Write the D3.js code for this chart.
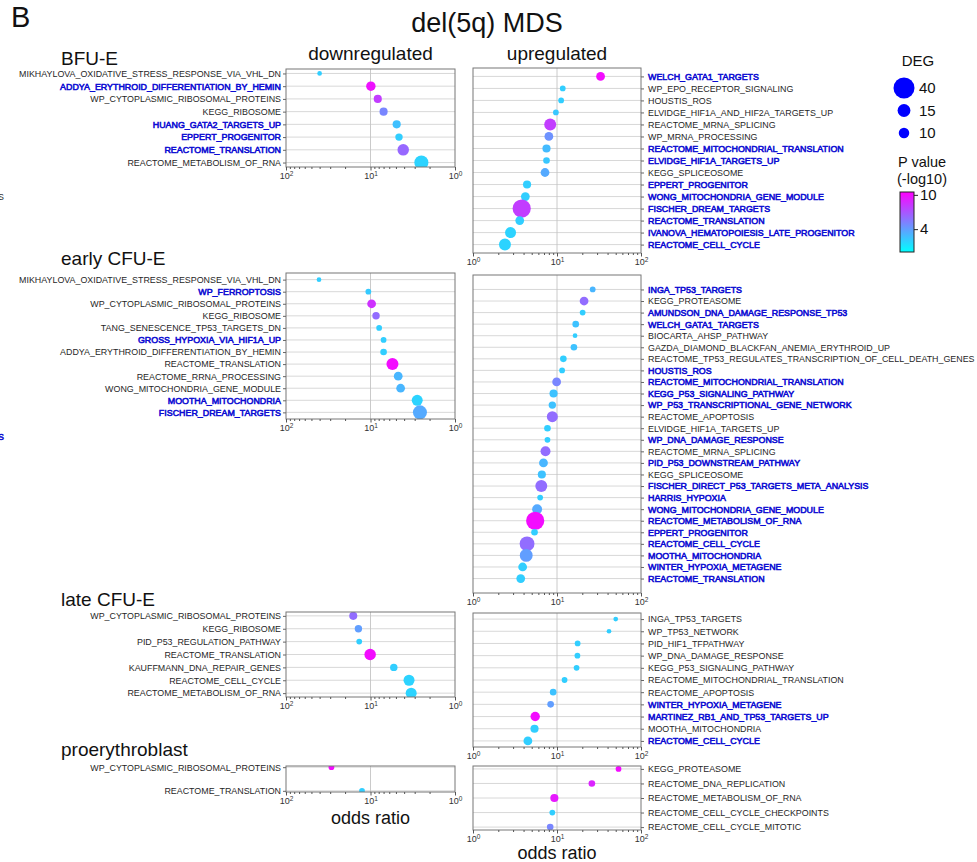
<!DOCTYPE html>
<html>
<head>
<meta charset="utf-8">
<script src="https://cdn.jsdelivr.net/npm/d3@7"></script>
<style>
body{margin:0;background:#fff}
svg{font-family:"Liberation Sans",Arial,sans-serif}
</style>
</head>
<body>
<div id="chart"></div>
<script>
// BFU-E
var bfuDownTerms=['MIKHAYLOVA_OXIDATIVE_STRESS_RESPONSE_VIA_VHL_DN','ADDYA_ERYTHROID_DIFFERENTIATION_BY_HEMIN','WP_CYTOPLASMIC_RIBOSOMAL_PROTEINS','KEGG_RIBOSOME','HUANG_GATA2_TARGETS_UP','EPPERT_PROGENITOR','REACTOME_TRANSLATION','REACTOME_METABOLISM_OF_RNA']
var bfuDownOdds=[40,9.9,8.2,7.0,4.9,4.6,4.1,2.5]
var bfuDownP=[2.0,9.8,8.0,5.0,2.6,2.0,6.2,1.8]
var bfuDownDeg=[2,8,6,6,6,5,12,18]
var bfuDownHl=[0,1,0,0,1,1,1,0]

var bfuUpTerms=['WELCH_GATA1_TARGETS','WP_EPO_RECEPTOR_SIGNALING','HOUSTIS_ROS','ELVIDGE_HIF1A_AND_HIF2A_TARGETS_UP','REACTOME_MRNA_SPLICING','WP_MRNA_PROCESSING','REACTOME_MITOCHONDRIAL_TRANSLATION','ELVIDGE_HIF1A_TARGETS_UP','KEGG_SPLICEOSOME','EPPERT_PROGENITOR','WONG_MITOCHONDRIA_GENE_MODULE','FISCHER_DREAM_TARGETS','REACTOME_TRANSLATION','IVANOVA_HEMATOPOIESIS_LATE_PROGENITOR','REACTOME_CELL_CYCLE']
var bfuUpOdds=[33,11.7,11.2,9.7,8.3,8.0,7.5,7.5,7.2,4.4,4.2,3.8,3.6,2.8,2.4]
var bfuUpP=[10,2,2,2.3,8,4.5,2.8,2.3,3.5,2,2,8,2,1.8,1.8]
var bfuUpDeg=[7,3,3,3,13,7,6,4,7,6,7,30,7,11,13]
var bfuUpHl=[1,0,0,0,0,0,1,1,0,1,1,1,1,1,1]

// early CFU-E
var earlyDownTerms=['MIKHAYLOVA_OXIDATIVE_STRESS_RESPONSE_VIA_VHL_DN','WP_FERROPTOSIS','WP_CYTOPLASMIC_RIBOSOMAL_PROTEINS','KEGG_RIBOSOME','TANG_SENESCENCE_TP53_TARGETS_DN','GROSS_HYPOXIA_VIA_HIF1A_UP','ADDYA_ERYTHROID_DIFFERENTIATION_BY_HEMIN','REACTOME_TRANSLATION','REACTOME_RRNA_PROCESSING','WONG_MITOCHONDRIA_GENE_MODULE','MOOTHA_MITOCHONDRIA','FISCHER_DREAM_TARGETS']
var earlyDownOdds=[40.7,10.6,9.7,8.6,7.9,7.0,7.0,5.5,4.7,4.4,2.8,2.6]
var earlyDownP=[2,2.2,8.5,6,2,2,2,10,3,3,1.8,3.5]
var earlyDownDeg=[2,3,7,5,3,3,4,13,7,7,11,18]
var earlyDownHl=[0,1,0,0,0,1,0,0,0,0,1,1]

var earlyUpTerms=['INGA_TP53_TARGETS','KEGG_PROTEASOME','AMUNDSON_DNA_DAMAGE_RESPONSE_TP53','WELCH_GATA1_TARGETS','BIOCARTA_AHSP_PATHWAY','GAZDA_DIAMOND_BLACKFAN_ANEMIA_ERYTHROID_UP','REACTOME_TP53_REGULATES_TRANSCRIPTION_OF_CELL_DEATH_GENES','HOUSTIS_ROS','REACTOME_MITOCHONDRIAL_TRANSLATION','KEGG_P53_SIGNALING_PATHWAY','WP_P53_TRANSCRIPTIONAL_GENE_NETWORK','REACTOME_APOPTOSIS','ELVIDGE_HIF1A_TARGETS_UP','WP_DNA_DAMAGE_RESPONSE','REACTOME_MRNA_SPLICING','PID_P53_DOWNSTREAM_PATHWAY','KEGG_SPLICEOSOME','FISCHER_DIRECT_P53_TARGETS_META_ANALYSIS','HARRIS_HYPOXIA','WONG_MITOCHONDRIA_GENE_MODULE','REACTOME_METABOLISM_OF_RNA','EPPERT_PROGENITOR','REACTOME_CELL_CYCLE','MOOTHA_MITOCHONDRIA','WINTER_HYPOXIA_METAGENE','REACTOME_TRANSLATION']
var earlyUpOdds=[26.6,21,20.2,16.7,16.4,15.9,11.9,11.5,9.9,9.1,8.8,8.8,7.7,7.7,7.3,6.9,6.6,6.5,6.3,5.8,5.5,5.4,4.4,4.3,3.9,3.7]
var earlyUpP=[3,6,2,2.5,2,2.5,2,2,5,2.5,2.5,6,2,2,6,3,2.5,6,2,3.5,10,2,6,4,2,2]
var earlyUpDeg=[3,7,3,4,2,4,4,3,7,6,5,11,4,3,9,7,6,13,3,9,30,4,20,15,7,7]
var earlyUpHl=[1,0,1,1,0,0,0,1,1,1,1,0,0,1,0,1,0,1,1,1,1,1,1,1,1,1]

// late CFU-E
var lateDownTerms=['WP_CYTOPLASMIC_RIBOSOMAL_PROTEINS','KEGG_RIBOSOME','PID_P53_REGULATION_PATHWAY','REACTOME_TRANSLATION','KAUFFMANN_DNA_REPAIR_GENES','REACTOME_CELL_CYCLE','REACTOME_METABOLISM_OF_RNA']
var lateDownOdds=[16,13.9,13.6,10.1,5.3,3.5,3.3]
var lateDownP=[6,4,2,10,2,1.8,1.8]
var lateDownDeg=[6,5,3,12,5,11,11]
var lateDownHl=[0,0,0,0,0,0,0]

var lateUpTerms=['INGA_TP53_TARGETS','WP_TP53_NETWORK','PID_HIF1_TFPATHWAY','WP_DNA_DAMAGE_RESPONSE','KEGG_P53_SIGNALING_PATHWAY','REACTOME_MITOCHONDRIAL_TRANSLATION','REACTOME_APOPTOSIS','WINTER_HYPOXIA_METAGENE','MARTINEZ_RB1_AND_TP53_TARGETS_UP','MOOTHA_MITOCHONDRIA','REACTOME_CELL_CYCLE']
var lateUpOdds=[50,41.6,17.6,17.5,17.1,12.3,9.0,8.4,5.5,5.4,4.5]
var lateUpP=[2,2,2,2,2,2,2.5,4,10,2,2]
var lateUpDeg=[2,2,3,3,3,3,4,4,8,6,7]
var lateUpHl=[0,0,0,0,0,0,0,1,1,0,1]

// proerythroblast
var proDownTerms=['WP_CYTOPLASMIC_RIBOSOMAL_PROTEINS','REACTOME_TRANSLATION']
var proDownOdds=[29,12.6]
var proDownP=[10,2]
var proDownDeg=[3,3]
var proDownHl=[0,0]

var proUpTerms=['KEGG_PROTEASOME','REACTOME_DNA_REPLICATION','REACTOME_METABOLISM_OF_RNA','REACTOME_CELL_CYCLE_CHECKPOINTS','REACTOME_CELL_CYCLE_MITOTIC']
var proUpOdds=[54,26,9.3,8.8,8.3]
var proUpP=[10,9,9.5,2,5]
var proUpDeg=[3,4,6,3,4]
var proUpHl=[0,0,0,0,0]

var groupNames=['BFU-E','early CFU-E','late CFU-E','proerythroblast']
var degLegend=[40,15,10]
var pTicks=[4,10]
var oddsTicks=[1,10,100]
var minorTicks=[2,3,4,5,6,7,8,9,20,30,40,50,60,70,80,90]

var W=977, H=862
var downX=[286,455], upX=[473,641]
var blue='#0a0ad2'
var labelFont='8.9px'

var svg=d3.select('#chart').append('svg')
    .attr('width',W).attr('height',H)

var size=d3.scaleSqrt().domain([0,40]).range([0,10.5])
var color=d3.scaleLinear().domain([0,10.5]).range(['#00ffff','#ff00ff']).clamp(true)

var panels=[
    {side:'down',terms:bfuDownTerms,odds:bfuDownOdds,p:bfuDownP,deg:bfuDownDeg,hl:bfuDownHl,top:69,bottom:167},
    {side:'up',terms:bfuUpTerms,odds:bfuUpOdds,p:bfuUpP,deg:bfuUpDeg,hl:bfuUpHl,top:68,bottom:253},
    {side:'down',terms:earlyDownTerms,odds:earlyDownOdds,p:earlyDownP,deg:earlyDownDeg,hl:earlyDownHl,top:273,bottom:419},
    {side:'up',terms:earlyUpTerms,odds:earlyUpOdds,p:earlyUpP,deg:earlyUpDeg,hl:earlyUpHl,top:275,bottom:593},
    {side:'down',terms:lateDownTerms,odds:lateDownOdds,p:lateDownP,deg:lateDownDeg,hl:lateDownHl,top:612,bottom:697},
    {side:'up',terms:lateUpTerms,odds:lateUpOdds,p:lateUpP,deg:lateUpDeg,hl:lateUpHl,top:613,bottom:747},
    {side:'down',terms:proDownTerms,odds:proDownOdds,p:proDownP,deg:proDownDeg,hl:proDownHl,top:766,bottom:792},
    {side:'up',terms:proUpTerms,odds:proUpOdds,p:proUpP,deg:proUpDeg,hl:proUpHl,top:766,bottom:830}
]
var groupTitleY=[65,265,606,756]

function SupLabel(sel){
    sel.each(function(d){
	var t=d3.select(this).text(null)
	t.append('tspan').text('10')
	t.append('tspan').attr('dy','-0.45em').attr('font-size','6.5px').text(Math.round(Math.log10(d)))
    })
}

function DrawPanel(pn,i){
    var down=pn.side=='down'
    var xr=down?downX:upX
    var x=d3.scaleLog().domain(down?[100,1]:[1,100]).range(xr)
    var n=pn.terms.length
    var y=d3.scalePoint().domain(pn.terms).range([pn.top,pn.bottom]).padding(0.05*(n-1))
    var g=svg.append('g').attr('class','panel')

    g.append('clipPath').attr('id','clip'+i)
	.append('rect')
	.attr('x',xr[0]).attr('y',pn.top)
	.attr('width',xr[1]-xr[0]).attr('height',pn.bottom-pn.top)

    // grid
    g.selectAll('line.hgrid').data(pn.terms).enter().append('line')
	.attr('class','hgrid')
	.attr('x1',xr[0]).attr('x2',xr[1])
	.attr('y1',function(d){return y(d)}).attr('y2',function(d){return y(d)})
	.attr('stroke','#d4d4d4').attr('stroke-width',0.9)
    g.append('line')
	.attr('x1',x(10)).attr('x2',x(10))
	.attr('y1',pn.top).attr('y2',pn.bottom)
	.attr('stroke','#c4c4c4').attr('stroke-width',0.9)

    // dots
    var idx=d3.range(n)
    g.append('g').attr('clip-path','url(#clip'+i+')')
	.selectAll('circle').data(idx).enter().append('circle')
	.attr('cx',function(k){return x(pn.odds[k])})
	.attr('cy',function(k){return y(pn.terms[k])})
	.attr('r',function(k){return size(pn.deg[k])})
	.attr('fill',function(k){return color(pn.p[k])})

    // frame
    g.append('rect')
	.attr('x',xr[0]).attr('y',pn.top)
	.attr('width',xr[1]-xr[0]).attr('height',pn.bottom-pn.top)
	.attr('fill','none').attr('stroke','#777').attr('stroke-width',1)

    // y axis with term labels
    var ya=down?d3.axisLeft(y):d3.axisRight(y)
    var yg=g.append('g')
	.attr('transform','translate('+(down?xr[0]:xr[1])+',0)')
	.call(ya.tickSize(3).tickPadding(down?2:4))
    yg.select('.domain').remove()
    yg.selectAll('.tick line').attr('stroke','#666')
    yg.selectAll('.tick text')
	.attr('font-family','"Liberation Sans",Arial,sans-serif')
	.attr('font-size',labelFont)
	.attr('fill',function(d){return pn.hl[pn.terms.indexOf(d)]?blue:'#262626'})
	.attr('stroke',function(d){return pn.hl[pn.terms.indexOf(d)]?blue:'none'})
	.attr('stroke-width',0.55)

    // x axis
    var xg=g.append('g').attr('transform','translate(0,'+pn.bottom+')')
    xg.append('g').call(d3.axisBottom(x).tickValues(minorTicks).tickSize(2).tickFormat(''))
    var maj=xg.append('g').call(d3.axisBottom(x).tickValues(oddsTicks).tickSize(3.5).tickPadding(2))
    xg.selectAll('.domain').remove()
    xg.selectAll('.tick line').attr('stroke','#555')
    maj.selectAll('.tick text')
	.attr('font-family','"Liberation Sans",Arial,sans-serif')
	.attr('font-size','9px').attr('fill','#333')
	.call(SupLabel)
}

panels.forEach(DrawPanel)

// texts
svg.append('text').attr('x',11).attr('y',27)
    .attr('font-size','29px').attr('fill','#111').text('B')
svg.append('text').attr('x',487).attr('y',32).attr('text-anchor','middle')
    .attr('font-size','27px').attr('fill','#111').text('del(5q) MDS')
svg.append('text').attr('x',(downX[0]+downX[1])/2).attr('y',60).attr('text-anchor','middle')
    .attr('font-size','19px').attr('fill','#111').text('downregulated')
svg.append('text').attr('x',(upX[0]+upX[1])/2).attr('y',60).attr('text-anchor','middle')
    .attr('font-size','19px').attr('fill','#111').text('upregulated')
groupNames.forEach(function(nm,i){
    svg.append('text').attr('x',61).attr('y',groupTitleY[i])
	.attr('font-size','19px').attr('fill','#111').text(nm)
})
svg.append('text').attr('x',(downX[0]+downX[1])/2).attr('y',824).attr('text-anchor','middle')
    .attr('font-size','18px').attr('fill','#111').text('odds ratio')
svg.append('text').attr('x',(upX[0]+upX[1])/2).attr('y',859).attr('text-anchor','middle')
    .attr('font-size','18px').attr('fill','#111').text('odds ratio')

// cropped label fragments at the left edge
svg.append('text').attr('x',-2).attr('y',200).attr('font-size',labelFont).attr('fill','#262626').text('S')
svg.append('text').attr('x',-2).attr('y',440).attr('font-size',labelFont)
    .attr('fill',blue).attr('stroke',blue).attr('stroke-width',0.55).text('S')

// DEG legend
var lg=svg.append('g')
lg.append('text').attr('x',918).attr('y',66).attr('text-anchor','middle')
    .attr('font-size','15px').attr('fill','#111').text('DEG')
var degY=d3.scalePoint().domain(degLegend).range([88,133])
lg.selectAll('circle').data(degLegend).enter().append('circle')
    .attr('cx',904).attr('cy',function(d){return degY(d)})
    .attr('r',function(d){return size(d)}).attr('fill','#0000ff')
lg.selectAll('text.dl').data(degLegend).enter().append('text')
    .attr('class','dl').attr('x',919).attr('y',function(d){return degY(d)}).attr('dy','0.36em')
    .attr('font-size','15px').attr('fill','#111').text(function(d){return d})

// colorbar
var defs=svg.append('defs')
var grad=defs.append('linearGradient').attr('id','cbar')
    .attr('x1',0).attr('y1',1).attr('x2',0).attr('y2',0)
grad.append('stop').attr('offset','0%').attr('stop-color',color(0))
grad.append('stop').attr('offset','100%').attr('stop-color',color(10.5))
lg.append('text').attr('x',922).attr('y',167).attr('text-anchor','middle')
    .attr('font-size','14.5px').attr('fill','#111').text('P value')
lg.append('text').attr('x',922).attr('y',184).attr('text-anchor','middle')
    .attr('font-size','14.5px').attr('fill','#111').text('(-log10)')
var cy=d3.scaleLinear().domain([0,10.5]).range([252,192])
lg.append('rect').attr('x',900).attr('y',192).attr('width',14).attr('height',60)
    .attr('fill','url(#cbar)').attr('stroke','#222').attr('stroke-width',1)
var cax=lg.append('g').attr('transform','translate(914,0)')
    .call(d3.axisRight(cy).tickValues(pTicks).tickSize(4).tickPadding(2))
cax.select('.domain').remove()
cax.selectAll('.tick line').attr('stroke','#222')
cax.selectAll('.tick text').attr('font-family','"Liberation Sans",Arial,sans-serif')
    .attr('font-size','15px').attr('fill','#111')
</script>
</body>
</html>
